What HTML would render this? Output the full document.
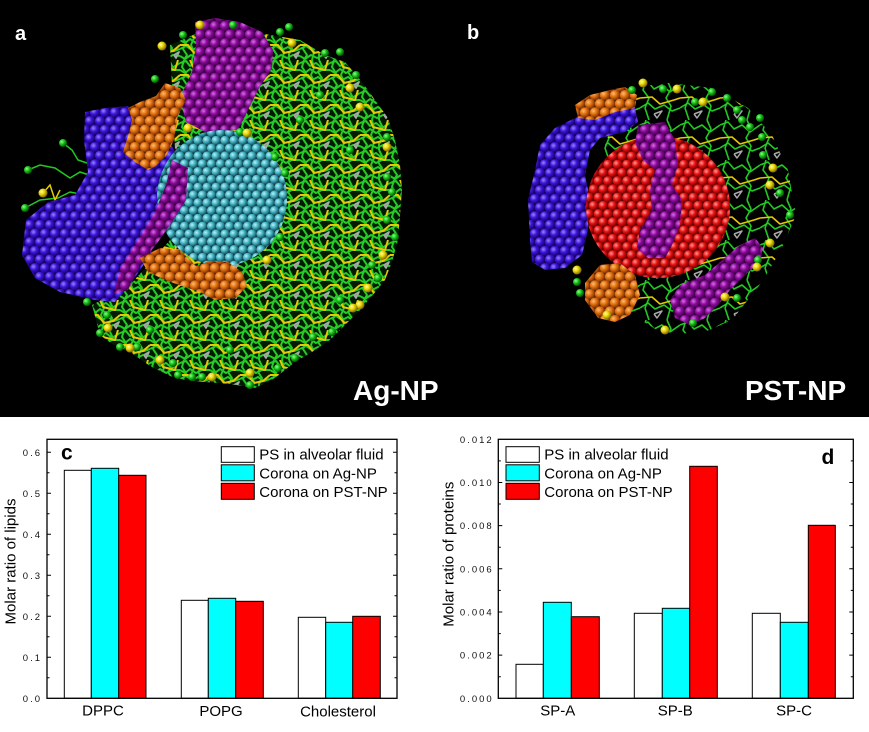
<!DOCTYPE html>
<html><head><meta charset="utf-8"><style>
html,body{margin:0;padding:0;background:#fff;}
svg{display:block;}
text{font-family:"Liberation Sans",Arial,sans-serif;}
</style></head><body>
<svg width="869" height="732" viewBox="0 0 869 732" xmlns="http://www.w3.org/2000/svg">
<defs>
<radialGradient id="gT" cx="0.35" cy="0.35" r="0.7"><stop offset="0" stop-color="#b8f4fa"/><stop offset="0.45" stop-color="#46b4c4"/><stop offset="1" stop-color="#0e4450"/></radialGradient>
<radialGradient id="gR" cx="0.35" cy="0.35" r="0.7"><stop offset="0" stop-color="#ff9a9a"/><stop offset="0.45" stop-color="#e81010"/><stop offset="1" stop-color="#600000"/></radialGradient>
<radialGradient id="gB" cx="0.35" cy="0.35" r="0.7"><stop offset="0" stop-color="#9a84ff"/><stop offset="0.45" stop-color="#3c14d8"/><stop offset="1" stop-color="#140060"/></radialGradient>
<radialGradient id="gP" cx="0.35" cy="0.35" r="0.7"><stop offset="0" stop-color="#d870e6"/><stop offset="0.45" stop-color="#8c0a9c"/><stop offset="1" stop-color="#380040"/></radialGradient>
<radialGradient id="gO" cx="0.35" cy="0.35" r="0.7"><stop offset="0" stop-color="#ffbe70"/><stop offset="0.45" stop-color="#e07010"/><stop offset="1" stop-color="#702800"/></radialGradient>
<radialGradient id="gG" cx="0.35" cy="0.35" r="0.7"><stop offset="0" stop-color="#90ff90"/><stop offset="0.45" stop-color="#18c018"/><stop offset="1" stop-color="#004800"/></radialGradient>
<radialGradient id="gY" cx="0.35" cy="0.35" r="0.7"><stop offset="0" stop-color="#ffffa0"/><stop offset="0.45" stop-color="#e8d400"/><stop offset="1" stop-color="#705800"/></radialGradient>

<pattern id="pT" width="9" height="15.6" patternUnits="userSpaceOnUse">
<rect width="9" height="15.6" fill="#0e3a44"/>
<circle cx="0" cy="0" r="4.6" fill="url(#gT)"/><circle cx="9" cy="0" r="4.6" fill="url(#gT)"/>
<circle cx="4.5" cy="7.8" r="4.6" fill="url(#gT)"/>
<circle cx="0" cy="15.6" r="4.6" fill="url(#gT)"/><circle cx="9" cy="15.6" r="4.6" fill="url(#gT)"/>
</pattern>
<pattern id="pR" width="9.5" height="16.45" patternUnits="userSpaceOnUse">
<rect width="9.5" height="16.45" fill="#500000"/>
<circle cx="0" cy="0" r="4.9" fill="url(#gR)"/><circle cx="9.5" cy="0" r="4.9" fill="url(#gR)"/>
<circle cx="4.75" cy="8.22" r="4.9" fill="url(#gR)"/>
<circle cx="0" cy="16.45" r="4.9" fill="url(#gR)"/><circle cx="9.5" cy="16.45" r="4.9" fill="url(#gR)"/>
</pattern>
<pattern id="pB" width="10" height="17.3" patternUnits="userSpaceOnUse">
<rect width="10" height="17.3" fill="#10004a"/>
<circle cx="0" cy="0" r="5.2" fill="url(#gB)"/><circle cx="10" cy="0" r="5.2" fill="url(#gB)"/>
<circle cx="5" cy="8.65" r="5.2" fill="url(#gB)"/>
<circle cx="0" cy="17.3" r="5.2" fill="url(#gB)"/><circle cx="10" cy="17.3" r="5.2" fill="url(#gB)"/>
</pattern>
<pattern id="pP" width="10" height="17.3" patternUnits="userSpaceOnUse">
<rect width="10" height="17.3" fill="#300036"/>
<circle cx="0" cy="0" r="5.2" fill="url(#gP)"/><circle cx="10" cy="0" r="5.2" fill="url(#gP)"/>
<circle cx="5" cy="8.65" r="5.2" fill="url(#gP)"/>
<circle cx="0" cy="17.3" r="5.2" fill="url(#gP)"/><circle cx="10" cy="17.3" r="5.2" fill="url(#gP)"/>
</pattern>
<pattern id="pO" width="10" height="17.3" patternUnits="userSpaceOnUse">
<rect width="10" height="17.3" fill="#502000"/>
<circle cx="0" cy="0" r="5.2" fill="url(#gO)"/><circle cx="10" cy="0" r="5.2" fill="url(#gO)"/>
<circle cx="5" cy="8.65" r="5.2" fill="url(#gO)"/>
<circle cx="0" cy="17.3" r="5.2" fill="url(#gO)"/><circle cx="10" cy="17.3" r="5.2" fill="url(#gO)"/>
</pattern>
<pattern id="pL" width="30" height="30" patternUnits="userSpaceOnUse">
<rect width="30" height="30" fill="#031a03"/>
<g fill="none" stroke-linejoin="round" stroke-width="2">
<polyline stroke="#26cc26" points="0,3 6,1 10,6 16,3 22,8 30,3"/>
<polyline stroke="#26cc26" points="0,10 5,13 10,9 16,13 22,10 30,10"/>
<polyline stroke="#26cc26" points="0,19 6,16 12,20 18,17 24,21 30,19"/>
<polyline stroke="#26cc26" points="0,26 5,29 11,25 17,28 23,25 30,26"/>
<polyline stroke="#26cc26" points="4,0 2,7 6,13 3,19 7,25 4,30"/>
<polyline stroke="#26cc26" points="19,0 22,6 18,12 22,18 19,24 19,30"/>
<polyline stroke="#26cc26" points="12,0 14,8 11,15 14,22 12,30"/>
<polyline stroke="#e8c800" points="0,15 8,15 14,23 23,21 30,15"/>
<polyline stroke="#e8c800" points="10,0 13,7 25,10 28,0"/>
<polyline stroke="#a8a8a8" stroke-width="1.8" points="24,25 29,22 26,28 24,25"/>
</g>
</pattern>
<pattern id="pL2" width="40" height="40" patternUnits="userSpaceOnUse">
<rect width="40" height="40" fill="#000"/>
<g fill="none" stroke-linejoin="round" stroke-width="1.6">
<polyline stroke="#22c822" points="0,5 8,2 14,9 22,5 30,12 40,5"/>
<polyline stroke="#22c822" points="0,28 8,23 15,29 24,25 32,31 40,28"/>
<polyline stroke="#22c822" points="6,0 3,10 9,18 5,28 9,40"/>
<polyline stroke="#22c822" points="27,0 31,9 26,18 31,26 27,40"/>
<polyline stroke="#e8c800" points="0,18 12,17 20,24 34,20 40,18"/>
<polyline stroke="#a8a8a8" stroke-width="1.5" points="14,34 22,31 17,38 14,34"/>
</g>
</pattern>
</defs>

<!-- top black image -->
<rect x="0" y="0" width="869" height="417" fill="#000"/>

<!-- Panel a -->
<path d="M170,45 L200,32 L230,25 L265,34 L300,40 L325,55 L345,62 L362,82 L375,100 L388,118 L395,140 L400,165 L402,190 L400,215 L398,240 L392,262 L385,280 L372,296 L360,310 L345,325 L330,340 L312,352 L295,362 L275,378 L255,388 L230,384 L205,382 L185,380 L170,376 L150,366 L130,352 L112,344 L100,335 L92,305 L130,285 L170,240 L175,150 Z" fill="url(#pL)"/>
<g fill="none" stroke="#22c822" stroke-width="1.5">
<polyline points="28,170 40,165 55,168 70,178 80,172 92,176"/>
<polyline points="25,208 40,200 58,198 70,192 85,195"/>
<polyline points="63,143 72,150 78,160 90,164"/>
</g>
<polyline points="43,193 50,185 55,200 60,190" fill="none" stroke="#e8c800" stroke-width="1.5"/>
<path d="M85,112 L105,108 L128,106 L140,120 L150,150 L165,135 L180,160 L170,190 L165,215 L150,255 L130,285 L115,302 L95,300 L60,292 L35,278 L22,255 L26,220 L48,202 L75,195 L88,172 L84,140 Z" fill="url(#pB)"/>
<path d="M195,22 L215,18 L240,22 L262,32 L273,50 L272,68 L258,90 L248,110 L238,130 L205,132 L186,122 L180,98 L192,72 L196,45 Z" fill="url(#pP)"/>
<path d="M165,83 L180,88 L186,100 L178,115 L174,140 L166,156 L156,166 L148,170 L135,162 L123,152 L128,136 L132,120 L128,108 L140,102 L156,96 Z" fill="url(#pO)"/>
<ellipse cx="222" cy="198" rx="65" ry="68" fill="url(#pT)"/>
<path d="M172,160 L188,168 L186,200 L172,222 L158,242 L142,262 L128,290 L114,294 L120,268 L138,240 L155,212 L166,185 Z" fill="url(#pP)"/>
<path d="M140,258 L160,248 L180,250 L196,266 L210,261 L228,262 L242,272 L247,286 L236,298 L215,300 L200,292 L185,287 L165,280 L148,272 Z" fill="url(#pO)"/>
<g fill="url(#gG)">
<circle cx="183" cy="35" r="4"/><circle cx="233" cy="25" r="4"/><circle cx="155" cy="79" r="4"/><circle cx="280" cy="32" r="4"/><circle cx="289" cy="27" r="4"/>
<circle cx="325" cy="53" r="4"/><circle cx="340" cy="52" r="4"/><circle cx="356" cy="75" r="4"/><circle cx="387" cy="137" r="4"/><circle cx="387" cy="177" r="4"/>
<circle cx="392" cy="192" r="4"/><circle cx="387" cy="220" r="4"/><circle cx="395" cy="237" r="4"/><circle cx="372" cy="265" r="4"/><circle cx="378" cy="278" r="4"/>
<circle cx="332" cy="332" r="4"/><circle cx="313" cy="337" r="4"/><circle cx="295" cy="358" r="4"/><circle cx="278" cy="368" r="4"/><circle cx="250" cy="385" r="4"/>
<circle cx="202" cy="377" r="4"/><circle cx="192" cy="377" r="4"/><circle cx="178" cy="375" r="4"/><circle cx="173" cy="363" r="4"/><circle cx="137" cy="347" r="4"/>
<circle cx="120" cy="347" r="4"/><circle cx="100" cy="333" r="4"/><circle cx="107" cy="315" r="4"/><circle cx="87" cy="302" r="4"/><circle cx="63" cy="143" r="4"/>
<circle cx="28" cy="170" r="4"/><circle cx="25" cy="208" r="4"/><circle cx="240" cy="132" r="4"/><circle cx="275" cy="157" r="4"/><circle cx="285" cy="173" r="4"/>
<circle cx="280" cy="237" r="4"/><circle cx="300" cy="120" r="4"/><circle cx="320" cy="95" r="4"/><circle cx="350" cy="150" r="4"/><circle cx="340" cy="300" r="4"/>
<circle cx="230" cy="350" r="4"/><circle cx="150" cy="330" r="4"/>
</g>
<g fill="url(#gY)">
<circle cx="200" cy="25" r="4.5"/><circle cx="162" cy="46" r="4.5"/><circle cx="292" cy="43" r="4.5"/><circle cx="350" cy="88" r="4.5"/><circle cx="360" cy="107" r="4.5"/>
<circle cx="387" cy="147" r="4.5"/><circle cx="383" cy="255" r="4.5"/><circle cx="368" cy="288" r="4.5"/><circle cx="360" cy="305" r="4.5"/><circle cx="353" cy="308" r="4.5"/>
<circle cx="250" cy="373" r="4.5"/><circle cx="212" cy="377" r="4.5"/><circle cx="160" cy="360" r="4.5"/><circle cx="130" cy="348" r="4.5"/><circle cx="108" cy="328" r="4.5"/>
<circle cx="43" cy="193" r="4.5"/><circle cx="247" cy="133" r="4.5"/><circle cx="267" cy="260" r="4.5"/><circle cx="188" cy="128" r="4.5"/>
</g>
<text x="15" y="40" font-size="20" font-weight="bold" fill="#fff">a</text>
<text x="353" y="400" font-size="28" font-weight="bold" fill="#fff">Ag-NP</text>

<!-- Panel b -->
<path d="M622,95 L660,82 L712,88 L748,108 L772,135 L788,170 L796,215 L782,248 L762,282 L732,320 L700,334 L660,332 L628,312 L612,280 L600,160 Z" fill="url(#pL2)"/>
<path d="M575,118 L600,108 L620,103 L635,108 L638,122 L625,132 L600,138 L590,150 L585,175 L590,200 L588,230 L582,255 L565,268 L545,270 L532,262 L530,240 L528,200 L535,170 L540,145 L555,128 Z" fill="url(#pB)"/>
<path d="M575,105 L590,95 L610,90 L625,87 L637,95 L635,108 L615,112 L595,120 L578,118 Z" fill="url(#pO)"/>
<ellipse cx="658" cy="207" rx="72" ry="71" fill="url(#pR)"/>
<path d="M638,125 L665,122 L675,140 L678,165 L672,185 L682,200 L680,225 L672,245 L665,258 L648,258 L637,248 L640,230 L652,210 L650,190 L655,170 L643,160 L635,143 Z" fill="url(#pP)"/>
<path d="M585,283 L600,265 L620,263 L635,275 L640,295 L630,315 L615,322 L598,318 L585,300 Z" fill="url(#pO)"/>
<path d="M680,285 L705,275 L720,262 L740,245 L755,238 L763,248 L760,262 L745,275 L730,290 L718,305 L705,318 L690,325 L675,318 L670,300 Z" fill="url(#pP)"/>
<g fill="url(#gG)">
<circle cx="632" cy="90" r="4"/><circle cx="663" cy="89" r="4"/><circle cx="712" cy="92" r="4"/><circle cx="727" cy="98" r="4"/><circle cx="737" cy="110" r="4"/>
<circle cx="695" cy="102" r="4"/><circle cx="760" cy="118" r="4"/><circle cx="750" cy="127" r="4"/><circle cx="742" cy="120" r="4"/><circle cx="762" cy="137" r="4"/>
<circle cx="763" cy="155" r="4"/><circle cx="780" cy="193" r="4"/><circle cx="790" cy="215" r="4"/><circle cx="758" cy="260" r="4"/><circle cx="737" cy="298" r="4"/>
<circle cx="693" cy="323" r="4"/><circle cx="580" cy="293" r="4"/><circle cx="577" cy="282" r="4"/>
</g>
<g fill="url(#gY)">
<circle cx="643" cy="83" r="4.5"/><circle cx="677" cy="89" r="4.5"/><circle cx="703" cy="102" r="4.5"/><circle cx="773" cy="168" r="4.5"/><circle cx="770" cy="185" r="4.5"/>
<circle cx="770" cy="243" r="4.5"/><circle cx="757" cy="267" r="4.5"/><circle cx="725" cy="297" r="4.5"/><circle cx="665" cy="330" r="4.5"/><circle cx="607" cy="315" r="4.5"/>
<circle cx="577" cy="270" r="4.5"/>
</g>
<text x="467" y="39" font-size="20" font-weight="bold" fill="#fff">b</text>
<text x="745" y="400" font-size="28" font-weight="bold" fill="#fff">PST-NP</text>

<!-- Chart c -->
<g stroke="#000" stroke-width="1">
<rect x="64.3" y="470.3" width="27" height="228" fill="#fff"/>
<rect x="91.3" y="468.3" width="27.4" height="230" fill="#00ffff"/>
<rect x="118.7" y="475.3" width="27.3" height="223" fill="#ff0000"/>
<rect x="181.3" y="600.3" width="27" height="98" fill="#fff"/>
<rect x="208.3" y="598.3" width="27.4" height="100" fill="#00ffff"/>
<rect x="235.7" y="601.3" width="27.6" height="97" fill="#ff0000"/>
<rect x="298.3" y="617.3" width="27.4" height="81" fill="#fff"/>
<rect x="325.7" y="622.3" width="27" height="76" fill="#00ffff"/>
<rect x="352.7" y="616.3" width="27.6" height="82" fill="#ff0000"/>
</g>
<rect x="47" y="439.3" width="350" height="259" fill="none" stroke="#000" stroke-width="1.3"/>
<g stroke="#000" stroke-width="1">
<path d="M47,657.3h4M47,616.3h4M47,575.3h4M47,534.3h4M47,493.3h4M47,452.3h4M47,677.8h2.5M47,636.8h2.5M47,595.8h2.5M47,554.8h2.5M47,513.8h2.5M47,472.8h2.5"/>
<path d="M397,657.3h-4M397,616.3h-4M397,575.3h-4M397,534.3h-4M397,493.3h-4M397,452.3h-4M397,677.8h-2.5M397,636.8h-2.5M397,595.8h-2.5M397,554.8h-2.5M397,513.8h-2.5M397,472.8h-2.5"/>
</g>
<g font-size="9.5" fill="#111" text-anchor="end" letter-spacing="2">
<text x="42" y="701.8">0.0</text><text x="42" y="660.8">0.1</text><text x="42" y="619.8">0.2</text><text x="42" y="578.8">0.3</text>
<text x="42" y="537.8">0.4</text><text x="42" y="496.8">0.5</text><text x="42" y="455.8">0.6</text>
</g>
<text transform="translate(15.5,561.5) rotate(-90)" font-size="15" text-anchor="middle" fill="#000">Molar ratio of lipids</text>
<g font-size="15" fill="#000" text-anchor="middle">
<text x="103" y="715.5">DPPC</text><text x="221" y="716">POPG</text><text x="338" y="716.5">Cholesterol</text>
</g>
<g stroke="#000" stroke-width="1">
<rect x="221.3" y="446.7" width="33" height="15.6" fill="#fff"/>
<rect x="221.3" y="464.8" width="33" height="16" fill="#00ffff"/>
<rect x="221.3" y="483.3" width="33" height="16" fill="#ff0000"/>
</g>
<g font-size="15" fill="#000">
<text x="259.3" y="459.3">PS in alveolar fluid</text>
<text x="259.3" y="478.3">Corona on Ag-NP</text>
<text x="259.3" y="496.8">Corona on PST-NP</text>
</g>
<text x="61" y="459.3" font-size="21" font-weight="bold" fill="#000">c</text>

<!-- Chart d -->
<g stroke="#000" stroke-width="1">
<rect x="516" y="664.3" width="27.3" height="34" fill="#fff"/>
<rect x="543.3" y="602.3" width="28" height="96" fill="#00ffff"/>
<rect x="571.3" y="616.7" width="28" height="81.6" fill="#ff0000"/>
<rect x="634.3" y="613.3" width="28" height="85" fill="#fff"/>
<rect x="662.3" y="608.3" width="27.4" height="90" fill="#00ffff"/>
<rect x="689.7" y="466.3" width="27.6" height="232" fill="#ff0000"/>
<rect x="752.3" y="613.3" width="28" height="85" fill="#fff"/>
<rect x="780.3" y="622.3" width="28" height="76" fill="#00ffff"/>
<rect x="808.3" y="525.3" width="27" height="173" fill="#ff0000"/>
</g>
<rect x="498.3" y="439.3" width="355" height="259" fill="none" stroke="#000" stroke-width="1.3"/>
<g stroke="#000" stroke-width="1">
<path d="M498.3,655.1h4M498.3,612h4M498.3,568.8h4M498.3,525.6h4M498.3,482.5h4M498.3,676.7h2.5M498.3,633.6h2.5M498.3,590.4h2.5M498.3,547.2h2.5M498.3,504h2.5M498.3,460.9h2.5"/>
<path d="M853.3,655.1h-4M853.3,612h-4M853.3,568.8h-4M853.3,525.6h-4M853.3,482.5h-4M853.3,676.7h-2.5M853.3,633.6h-2.5M853.3,590.4h-2.5M853.3,547.2h-2.5M853.3,504h-2.5M853.3,460.9h-2.5"/>
</g>
<g font-size="9.5" fill="#111" text-anchor="end" letter-spacing="2">
<text x="493.7" y="701.8">0.000</text><text x="493.7" y="658.6">0.002</text><text x="493.7" y="615.5">0.004</text>
<text x="493.7" y="572.3">0.006</text><text x="493.7" y="529.1">0.008</text><text x="493.7" y="486">0.010</text><text x="493.7" y="442.8">0.012</text>
</g>
<text transform="translate(453.3,554.2) rotate(-90)" font-size="15" text-anchor="middle" fill="#000">Molar ratio of proteins</text>
<g font-size="15" fill="#000" text-anchor="middle">
<text x="557.7" y="715.5">SP-A</text><text x="675.3" y="715.5">SP-B</text><text x="794" y="715.5">SP-C</text>
</g>
<g stroke="#000" stroke-width="1">
<rect x="506" y="446.7" width="33.3" height="15.6" fill="#fff"/>
<rect x="506" y="464.8" width="33.3" height="16" fill="#00ffff"/>
<rect x="506" y="483.3" width="33.3" height="16" fill="#ff0000"/>
</g>
<g font-size="15" fill="#000">
<text x="544.3" y="459.3">PS in alveolar fluid</text>
<text x="544.3" y="478.3">Corona on Ag-NP</text>
<text x="544.3" y="496.8">Corona on PST-NP</text>
</g>
<text x="821.5" y="464" font-size="21" font-weight="bold" fill="#000">d</text>
</svg>
</body></html>
